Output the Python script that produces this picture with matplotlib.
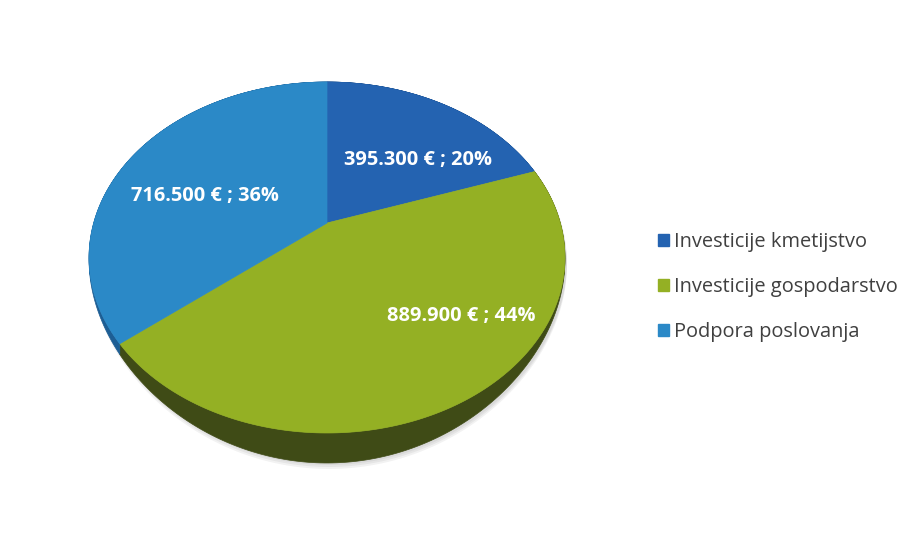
import matplotlib.pyplot as plt
import matplotlib.patches as mpatches
import numpy as np

# podatki
kategorije = ["Investicije kmetijstvo", "Investicije gospodarstvo", "Podpora poslovanja"]
zneski = [395300, 889900, 716500]
oznake = ["395.300 € ; 20%", "889.900 € ; 44%", "716.500 € ; 36%"]
barve = ["#2463b1", "#94b024", "#2b89c7"]
barve_stranic = ["#1b4c86", "#3f4b16", "#1d5e94"]

# postavitev "3D" torte v pikslih
cx, cy = 327, 223      # vrh (središče) torte
rx = 233.3             # vodoravni polmer
ay, cp = 168.7, 0.1966 # perspektiva
globina = 30


def projekcija(u, v):
    w = 1 + cp * v
    return cx + rx * u / w, cy - ay * v / w


def zamik(v):
    # debelina stranice, ki se proti robovom zoži
    return globina * ((1 - v) / 2) ** 5


fig = plt.figure(figsize=(9.12, 5.48), dpi=100)
ax = fig.add_axes([0, 0, 1, 1])
ax.set_xlim(0, 912)
ax.set_ylim(548, 0)
ax.axis("off")

delezi = np.array(zneski) / sum(zneski)
meje = 90 - 360 * np.concatenate([[0], np.cumsum(delezi)])

# senca pod torto
t = np.radians(np.linspace(0, 360, 400))
xs, ys = projekcija(np.cos(t), np.sin(t))
for k in range(3):
    ax.fill(xs + 2, ys + zamik(np.sin(t)) + 2 + 2 * k, color="black", alpha=0.05, lw=0)

# stranice
for i in range(len(zneski)):
    t = np.radians(np.linspace(meje[i], meje[i + 1], 200))
    u, v = np.cos(t), np.sin(t)
    xs, ys = projekcija(u, v)
    zg = list(zip(xs, ys))
    sp = list(zip(xs, ys + zamik(v)))[::-1]
    ax.add_patch(mpatches.Polygon(zg + sp, closed=True, facecolor=barve_stranic[i],
                                  edgecolor=barve_stranic[i], lw=0.5))

# zgornja ploskev
for i in range(len(zneski)):
    t = np.radians(np.linspace(meje[i], meje[i + 1], 200))
    xs, ys = projekcija(np.cos(t), np.sin(t))
    pts = [(cx, cy)] + list(zip(xs, ys))
    ax.add_patch(mpatches.Polygon(pts, closed=True, facecolor=barve[i], edgecolor=barve[i], lw=0.5))

# oznake
pozicije = [(418, 160), (461, 316), (205, 196)]
for (x, y), txt in zip(pozicije, oznake):
    ax.text(x, y, txt, color="white", fontsize=14.4, fontweight="bold", family="Open Sans",
            ha="center", va="center")

# legenda
rocice = [mpatches.Patch(color=c) for c in barve]
ax.legend(rocice, kategorije, loc="center left", bbox_to_anchor=(640 / 912, 1 - 287 / 548),
          frameon=False, handlelength=0.55, handleheight=0.55, handletextpad=0.25,
          labelspacing=1.25, prop={"family": "Open Sans", "size": 14.4}, labelcolor="#404040")

fig.savefig("out.png", dpi=100, facecolor="white")
